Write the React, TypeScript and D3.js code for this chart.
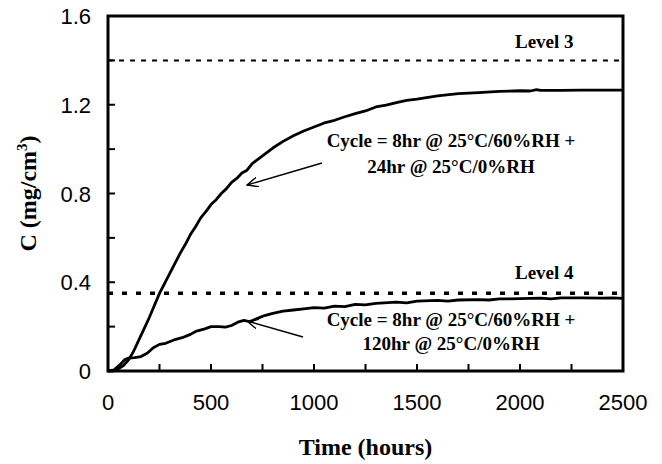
import React from "react";
import * as d3 from "d3";

// Sorption curves: hours vs concentration (mg/cm3)
const hours24: number[] = [0, 25, 50, 75, 100, 125, 150, 175, 200, 225, 250, 275, 300, 325, 350, 375, 400, 425, 450, 475, 500, 525, 550, 575, 600, 625, 650, 675, 700, 750, 800, 850, 900, 950, 1000, 1050, 1100, 1150, 1200, 1250, 1300, 1350, 1400, 1450, 1500, 1600, 1700, 1800, 1900, 2000, 2050, 2080, 2100, 2200, 2300, 2400, 2500];
const conc24: number[] = [0, 0, 0.01, 0.025, 0.05, 0.09, 0.14, 0.19, 0.24, 0.295, 0.35, 0.395, 0.44, 0.485, 0.53, 0.57, 0.615, 0.65, 0.69, 0.718, 0.75, 0.772, 0.8, 0.822, 0.85, 0.868, 0.892, 0.905, 0.935, 0.97, 1.005, 1.035, 1.06, 1.082, 1.1, 1.118, 1.13, 1.146, 1.16, 1.172, 1.19, 1.198, 1.21, 1.22, 1.225, 1.24, 1.25, 1.255, 1.26, 1.263, 1.262, 1.268, 1.265, 1.265, 1.266, 1.266, 1.266];

const hours120: number[] = [0, 30, 60, 80, 100, 130, 160, 190, 220, 250, 280, 320, 360, 400, 430, 470, 500, 540, 570, 600, 630, 660, 690, 720, 760, 800, 850, 900, 950, 1000, 1050, 1100, 1150, 1200, 1250, 1300, 1400, 1450, 1500, 1600, 1650, 1700, 1800, 1850, 1900, 2000, 2100, 2150, 2200, 2300, 2400, 2450, 2500];
const conc120: number[] = [0, 0.005, 0.03, 0.05, 0.058, 0.06, 0.065, 0.08, 0.105, 0.12, 0.125, 0.14, 0.15, 0.165, 0.18, 0.19, 0.2, 0.2, 0.198, 0.205, 0.22, 0.228, 0.222, 0.235, 0.25, 0.26, 0.27, 0.275, 0.28, 0.286, 0.283, 0.292, 0.29, 0.3, 0.298, 0.305, 0.31, 0.307, 0.315, 0.318, 0.315, 0.32, 0.322, 0.32, 0.325, 0.326, 0.328, 0.325, 0.33, 0.33, 0.328, 0.33, 0.327];

const levelValues: number[] = [1.4, 0.35];
const levelNames: string[] = ["Level 3", "Level 4"];

const xTickLabels: number[] = [0, 500, 1000, 1500, 2000, 2500];
const yTickLabels: number[] = [0, 0.4, 0.8, 1.2, 1.6];

const W = 662;
const H = 464;
const left = 108;
const right = 623;
const top = 16;
const bottom = 371;

export default function App() {
  const x = d3.scaleLinear().domain([0, 2500]).range([left, right]);
  const y = d3.scaleLinear().domain([0, 1.6]).range([bottom, top]);

  const line = d3
    .line<[number, number]>()
    .x((d) => x(d[0]))
    .y((d) => y(d[1]));

  const s24 = hours24.map((h, i) => [h, conc24[i]] as [number, number]);
  const s120 = hours120.map((h, i) => [h, conc120[i]] as [number, number]);

  const xMinor = d3.range(0, 2501, 250);
  const yMinor = d3.range(0, 1.61, 0.2);

  const serif = "'Liberation Serif', 'Times New Roman', serif";
  const sans = "'Liberation Sans', Arial, sans-serif";

  return (
    <svg
      width={W}
      height={H}
      style={{ position: "absolute", left: 0, top: 0, background: "#fff" }}
    >
      <defs>
        <marker
          id="arrowOpen"
          viewBox="0 0 12 10"
          refX="11"
          refY="5"
          markerWidth="12"
          markerHeight="10"
          markerUnits="userSpaceOnUse"
          orient="auto"
        >
          <path d="M0,0 L11,5 L0,10" fill="none" stroke="#000" strokeWidth="1.4" />
        </marker>
      </defs>

      {/* level reference lines */}
      <line
        x1={x(0)}
        x2={x(2500)}
        y1={y(levelValues[0])}
        y2={y(levelValues[0])}
        stroke="#000"
        strokeWidth={2}
        strokeDasharray="5,6"
      />
      <line
        x1={x(0)}
        x2={x(2500)}
        y1={y(levelValues[1])}
        y2={y(levelValues[1])}
        stroke="#000"
        strokeWidth={3.5}
        strokeDasharray="5,9"
      />
      <text x={515} y={48} fontFamily={serif} fontWeight="bold" fontSize={19}>
        {levelNames[0]}
      </text>
      <text x={515} y={279} fontFamily={serif} fontWeight="bold" fontSize={19}>
        {levelNames[1]}
      </text>

      {/* data curves */}
      <path d={line(s24) ?? ""} fill="none" stroke="#000" strokeWidth={2.8} strokeLinejoin="round" />
      <path d={line(s120) ?? ""} fill="none" stroke="#000" strokeWidth={2.8} strokeLinejoin="round" />

      {/* frame */}
      <rect
        x={left}
        y={top}
        width={right - left}
        height={bottom - top}
        fill="none"
        stroke="#000"
        strokeWidth={3}
      />

      {/* inner ticks */}
      {xMinor.map((t) => (
        <line key={"xt" + t} x1={x(t)} x2={x(t)} y1={bottom} y2={bottom - 7} stroke="#000" strokeWidth={2} />
      ))}
      {yMinor.map((t) => (
        <line key={"yt" + t} x1={left} x2={left + 7} y1={y(t)} y2={y(t)} stroke="#000" strokeWidth={2} />
      ))}

      {/* tick labels */}
      {xTickLabels.map((t) => (
        <text key={"xl" + t} x={x(t)} y={410} textAnchor="middle" fontFamily={sans} fontSize={22}>
          {t}
        </text>
      ))}
      {yTickLabels.map((t) => (
        <text key={"yl" + t} x={91} y={y(t) + 8} textAnchor="end" fontFamily={sans} fontSize={22}>
          {t === 0 ? "0" : t.toFixed(1)}
        </text>
      ))}

      {/* axis titles */}
      <text
        x={(left + right) / 2}
        y={455}
        textAnchor="middle"
        fontFamily={serif}
        fontWeight="bold"
        fontSize={24}
      >
        Time (hours)
      </text>
      <text
        transform={`translate(36, ${(top + bottom) / 2}) rotate(-90)`}
        textAnchor="middle"
        fontFamily={serif}
        fontWeight="bold"
        fontSize={24}
      >
        C (mg/cm
        <tspan fontSize={15} dy={-9}>
          3
        </tspan>
        <tspan dy={9}>)</tspan>
      </text>

      {/* annotations */}
      <text x={451} y={147} textAnchor="middle" fontFamily={serif} fontWeight="bold" fontSize={19}>
        Cycle = 8hr @ 25°C/60%RH +
      </text>
      <text x={451} y={173} textAnchor="middle" fontFamily={serif} fontWeight="bold" fontSize={19}>
        24hr @ 25°C/0%RH
      </text>
      <line x1={322} y1={163} x2={247} y2={185} stroke="#000" strokeWidth={1.4} markerEnd="url(#arrowOpen)" />

      <text x={451} y={326} textAnchor="middle" fontFamily={serif} fontWeight="bold" fontSize={19}>
        Cycle = 8hr @ 25°C/60%RH +
      </text>
      <text x={451} y={350} textAnchor="middle" fontFamily={serif} fontWeight="bold" fontSize={19}>
        120hr @ 25°C/0%RH
      </text>
      <line x1={303} y1={337} x2={247} y2={321} stroke="#000" strokeWidth={1.4} markerEnd="url(#arrowOpen)" />
    </svg>
  );
}
